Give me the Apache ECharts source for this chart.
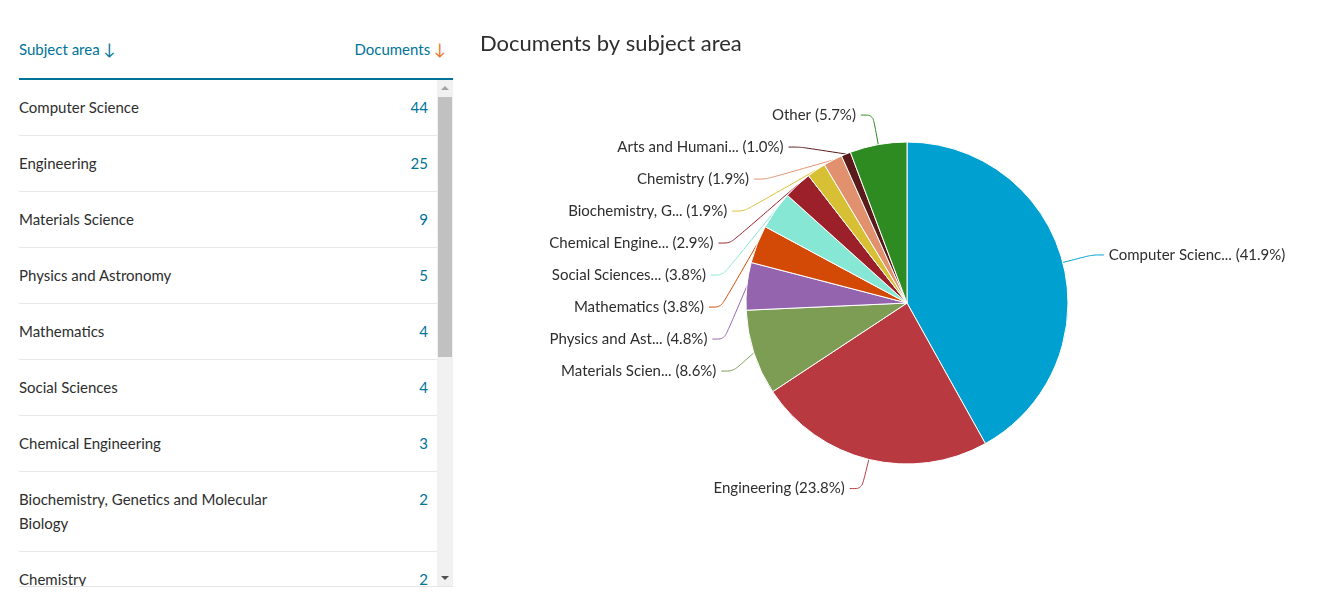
<!DOCTYPE html>
<html>
<head>
<meta charset="utf-8">
<script src="https://cdn.jsdelivr.net/npm/echarts@6/dist/echarts.min.js"></script>
<style>
    body { margin: 0; background: #fff; font-family: Lato, "Open Sans", sans-serif; color: #2e2e2e; }
    #table { position: absolute; left: 19px; top: 0; width: 434px; }
    #thead { height: 60px; padding-top: 18px; border-bottom: 2px solid #007398; display: flex; justify-content: space-between; align-items: center; font-size: 15px; color: #007398; }
    .arr { font-size: 16px; }
    #thead .doc { padding-right: 7px; }
    #thead .doc .arr { color: #e9711c; }
    #tbody { position: relative; height: 506px; overflow: hidden; border-bottom: 1px solid #e5e5e5; }
    .row { width: 418px; box-sizing: border-box; display: flex; justify-content: space-between; padding: 15px 9px 16px 0; line-height: 24px; font-size: 15px; border-bottom: 1px solid #e8e8e8; }
    .row .name { width: 290px; }
    .row .num { color: #007398; }
    #track { position: absolute; left: 418px; top: 0; width: 16px; height: 506px; background: #f1f1f1; }
    #thumb { position: absolute; left: 1px; top: 17px; width: 14px; height: 260px; background: #c1c1c1; }
    .tri { position: absolute; left: 4px; width: 0; height: 0; border-left: 4px solid transparent; border-right: 4px solid transparent; }
    #up { top: 6px; border-bottom: 4px solid #a3a3a3; }
    #down { bottom: 6px; border-top: 4px solid #505050; }
    #demo { position: absolute; left: 460px; top: 0; width: 878px; height: 613px; }
</style>
</head>
<body>
<div id="table">
    <div id="thead">
        <span>Subject area <span class="arr">&#8595;</span></span>
        <span class="doc">Documents <span class="arr">&#8595;</span></span>
    </div>
    <div id="tbody">
        <div id="rows"></div>
        <div id="track"><div id="up" class="tri"></div><div id="thumb"></div><div id="down" class="tri"></div></div>
    </div>
</div>
<div id="demo"></div>
<script>
// 学科分类
var subjects = ['Computer Science', 'Engineering', 'Materials Science', 'Physics and Astronomy',
    'Mathematics', 'Social Sciences', 'Chemical Engineering', 'Biochemistry, Genetics and Molecular Biology',
    'Chemistry', 'Arts and Humanities', 'Other'];
// 文档数量
var documents = [44, 25, 9, 5, 4, 4, 3, 2, 2, 1, 6];
// 扇区颜色
var colors = ['#00a0d0', '#b83a40', '#7e9d54', '#9464ae', '#d34a06', '#86e8d4',
    '#9b2029', '#d8c035', '#e2916f', '#5a1a1a', '#2e8b22'];
// 表格显示的行数（Other 不在表格中）
var tableRows = 9;

/**
 * 渲染左侧表格
 */
var render_table = function () {
    var html = '';
    for (var i = 0; i < tableRows; i++) {
        html += '<div class="row"><span class="name">' + subjects[i] + '</span><span class="num">' + documents[i] + '</span></div>';
    }
    document.getElementById('rows').innerHTML = html;
};

/**
 * 渲染饼图
 */
var render_pie = function () {
    var myChart = echarts.init(document.getElementById('demo'));
    var total = documents.reduce(function (a, b) { return a + b; }, 0);
    var data = subjects.map(function (s, i) {
        return { name: s, value: documents[i] };
    });
    var option = {
        color: colors,
        animation: false,
        title: {
            text: 'Documents by subject area',
            left: 20,
            top: 33,
            padding: 0,
            textStyle: { fontFamily: 'Lato', fontSize: 22, fontWeight: 'normal', color: '#2e2e2e' }
        },
        series: [{
            type: 'pie',
            center: [447, 303],
            radius: 161,
            startAngle: 90,
            clockwise: true,
            data: data,
            itemStyle: { borderColor: '#fff', borderWidth: 1 },
            label: {
                fontFamily: 'Lato',
                fontSize: 15,
                color: '#2e2e2e',
                lineHeight: 30,
                formatter: function (p) {
                    var n = p.name.length >= 15 ? p.name.slice(0, 15) + '...' : p.name;
                    return n + ' (' + (p.value / total * 100).toFixed(1) + '%)';
                }
            },
            labelLine: { length: 30, length2: 12, smooth: 0.3, lineStyle: { width: 1 } },
            emphasis: { disabled: true }
        }]
    };
    myChart.setOption(option);
};

render_table();
render_pie();
</script>
</body>
</html>
